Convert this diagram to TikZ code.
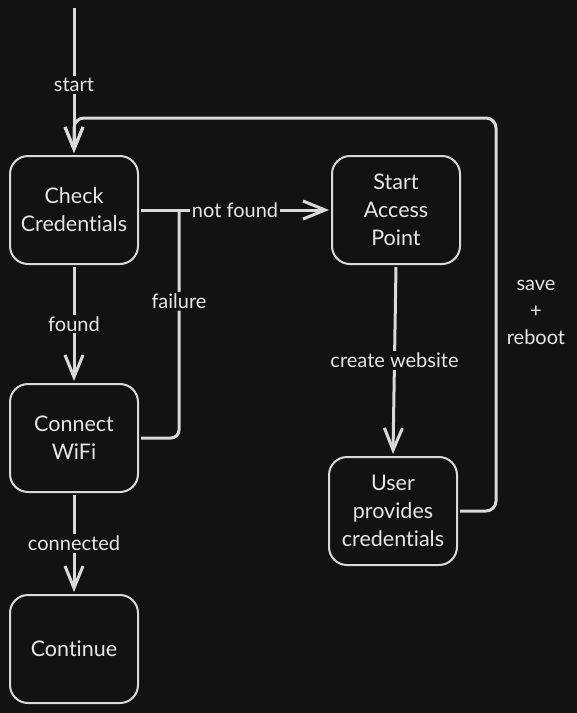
\documentclass[tikz,border=0pt]{standalone}
\usepackage{fontspec}
\setmainfont{Lato}[Ligatures=NoCommon]
\usetikzlibrary{arrows.meta}
\definecolor{bg}{HTML}{121212}
\definecolor{ink}{HTML}{D9D9D9}
\definecolor{txt}{HTML}{E6E6E6}
\tikzset{
    state/.style={draw=ink,line width=2pt,rounded corners=18pt,fill=bg,text=txt,
        minimum width=128pt,minimum height=108pt,align=center,outer sep=3pt,
        font=\fontsize{21.5}{28}\selectfont},
    conn/.style={draw=ink,line width=3pt,-{Straight Barb[length=22pt,width=18pt,line width=3pt]}},
    wire/.style={draw=ink,line width=3pt},
    lbl/.style={fill=bg,text=txt,inner sep=2pt,font=\fontsize{20}{27}\selectfont}
}
\begin{document}
\begin{tikzpicture}[x=1pt,y=-1pt]
                \fill[bg](0,0)rectangle(577,713);
                \useasboundingbox(0,0)rectangle(577,713);
                \node[state](cc)at(74,210){Check\\Credentials};
                \node[state](ap)at(396,210){Start\\Access\\Point};
                \node[state](cw)at(74,438){Connect\\WiFi};
                \node[state](up)at(393,511){User\\provides\\credentials};
                \node[state](co)at(74,649){Continue};
                \coordinate(entry)at(74,8);
                \coordinate(jn)at(179,210);
                \coordinate(loop)at(496,118);
                \draw[conn](entry)--(cc.north)node[lbl,pos=0.53]{start};
                \draw[conn,rounded corners=10pt](up.east)-|(loop)-|(cc.north);
                \node[lbl,align=center](sr)at(536,312){save\\+\\reboot};
                \draw[conn](cc.east)--(ap.west)node[lbl,pos=0.5]{not found};
                \draw[wire,rounded corners=8pt](cw.east)-|(jn)node[lbl,pos=0.8]{failure};
                \draw[conn](cc.south)--(cw.north)node[lbl,midway]{found};
                \draw[conn](cw.south)--(co.north)node[lbl,midway]{connected};
                \draw[conn](ap.south)--(up.north)node[lbl,pos=0.5]{create website};
            \end{tikzpicture}
\end{document}
